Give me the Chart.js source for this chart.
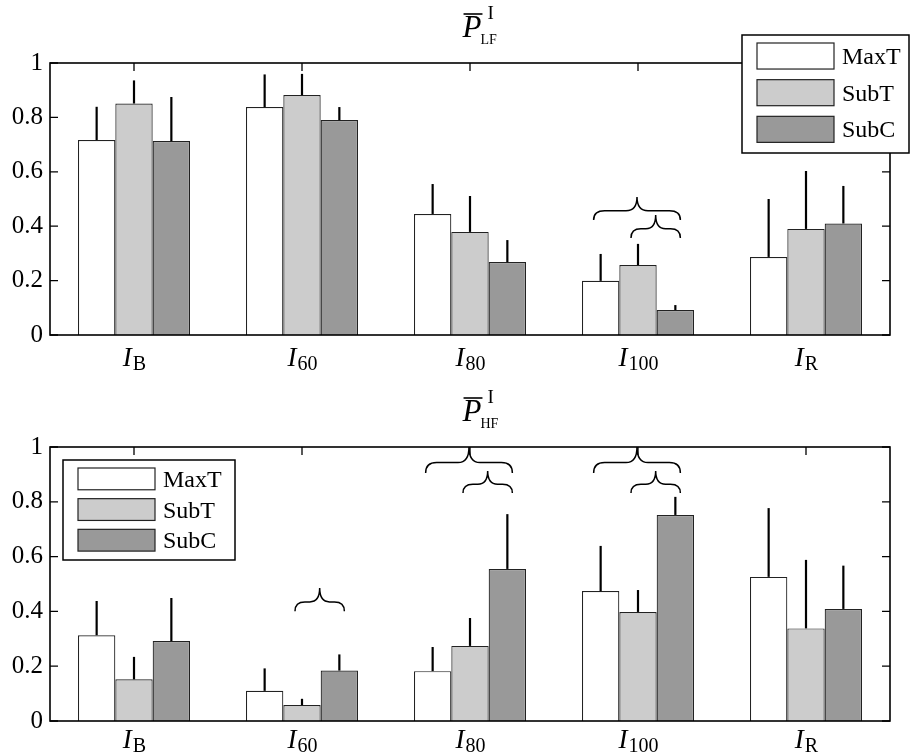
<!DOCTYPE html>
<html>
<head>
<meta charset="utf-8">
<script src="https://cdn.jsdelivr.net/npm/chart.js@4.4.1/dist/chart.umd.min.js"></script>
<style>
  html, body { margin: 0; padding: 0; background: #fff; }
  #wrap { position: relative; width: 911px; height: 755px; }
  canvas { position: absolute; left: 0; }
  #lf { top: 0; }
  #hf { top: 380px; }
</style>
</head>
<body>
<div id="wrap">
  <canvas id="lf" width="911" height="380"></canvas>
  <canvas id="hf" width="911" height="375"></canvas>
</div>
<script>
// category subscripts (I_B, I_60, ...) and series names
var SUBS = ["B", "60", "80", "100", "R"];
var SERIES = ["MaxT", "SubT", "SubC"];
var FILLS = ["#ffffff", "#cccccc", "#999999"];

// LF panel: means and upper error
var lfMaxT = [0.717, 0.838, 0.445, 0.199, 0.287];
var lfSubT = [0.851, 0.882, 0.379, 0.257, 0.390];
var lfSubC = [0.713, 0.790, 0.268, 0.092, 0.410];
var lfMaxTErr = [0.122, 0.120, 0.110, 0.099, 0.213];
var lfSubTErr = [0.085, 0.078, 0.132, 0.078, 0.213];
var lfSubCErr = [0.162, 0.048, 0.081, 0.018, 0.138];

// HF panel
var hfMaxT = [0.313, 0.110, 0.182, 0.474, 0.526];
var hfSubT = [0.152, 0.058, 0.274, 0.398, 0.338];
var hfSubC = [0.292, 0.184, 0.555, 0.752, 0.409];
var hfMaxTErr = [0.125, 0.082, 0.088, 0.165, 0.251];
var hfSubTErr = [0.082, 0.023, 0.102, 0.080, 0.250];
var hfSubCErr = [0.157, 0.059, 0.200, 0.066, 0.158];

// significance braces: [category, from series, to series, tip value, foot value]
var lfBraces = [[3, 0, 2, 0.507, 0.423], [3, 1, 2, 0.441, 0.357]];
var hfBraces = [
  [1, 1, 2, 0.485, 0.401],
  [2, 0, 2, 1.000, 0.905], [2, 1, 2, 0.912, 0.832],
  [3, 0, 2, 1.000, 0.905], [3, 1, 2, 0.912, 0.832]
];

var SERIF = "'Liberation Serif', 'DejaVu Serif', serif";

function brace(ctx, x0, x1, yTip, yFoot) {
  var xm = (x0 + x1) / 2;
  var yMid = yFoot - (yFoot - yTip) * 0.4;
  var r = Math.min(11, (x1 - x0) / 5);
  ctx.beginPath();
  ctx.moveTo(x0, yFoot);
  ctx.quadraticCurveTo(x0, yMid, x0 + r, yMid);
  ctx.lineTo(xm - r, yMid);
  ctx.quadraticCurveTo(xm, yMid, xm, yTip);
  ctx.quadraticCurveTo(xm, yMid, xm + r, yMid);
  ctx.lineTo(x1 - r, yMid);
  ctx.quadraticCurveTo(x1, yMid, x1, yFoot);
  ctx.stroke();
}

function makePanel(id, vals, errs, braces, sub, legendAt, labelGap, pad) {
  var panel = {
    id: "panel",
    beforeDatasetsDraw: function (chart) {
      // inward tick marks, drawn beneath the bars
      var ctx = chart.ctx, a = chart.chartArea;
      var xs = chart.scales.x, ys = chart.scales.y;
      ctx.save();
      ctx.strokeStyle = "#000";
      ctx.lineWidth = 1.3;
      ctx.beginPath();
      ys.ticks.forEach(function (t) {
        var py = ys.getPixelForValue(t.value);
        ctx.moveTo(a.left, py); ctx.lineTo(a.left + 8, py);
        ctx.moveTo(a.right, py); ctx.lineTo(a.right - 8, py);
      });
      SUBS.forEach(function (s, i) {
        var px = xs.getPixelForValue(i);
        ctx.moveTo(px, a.bottom); ctx.lineTo(px, a.bottom - 8);
        ctx.moveTo(px, a.top); ctx.lineTo(px, a.top + 8);
      });
      ctx.stroke();
      ctx.restore();
    },
    afterDatasetsDraw: function (chart) {
      var ctx = chart.ctx, a = chart.chartArea;
      var xs = chart.scales.x, ys = chart.scales.y;
      ctx.save();

      // upper error bars
      ctx.strokeStyle = "#000";
      ctx.lineWidth = 2.2;
      chart.data.datasets.forEach(function (ds, d) {
        var meta = chart.getDatasetMeta(d);
        meta.data.forEach(function (bar, i) {
          var top = ys.getPixelForValue(ds.data[i] + ds.errUp[i]);
          ctx.beginPath();
          ctx.moveTo(bar.x, bar.y);
          ctx.lineTo(bar.x, top);
          ctx.stroke();
        });
      });

      // braces
      ctx.lineWidth = 1.5;
      braces.forEach(function (b) {
        var from = chart.getDatasetMeta(b[1]).data[b[0]];
        var to = chart.getDatasetMeta(b[2]).data[b[0]];
        brace(ctx, from.x - 7, to.x + 5, ys.getPixelForValue(b[3]), ys.getPixelForValue(b[4]));
      });

      // frame
      ctx.lineWidth = 1.6;
      ctx.strokeRect(a.left, a.top, a.right - a.left, a.bottom - a.top);

      // x labels: italic I with upright subscript
      ctx.fillStyle = "#000";
      ctx.textBaseline = "alphabetic";
      ctx.textAlign = "left";
      SUBS.forEach(function (s, i) {
        var px = xs.getPixelForValue(i);
        ctx.font = "italic 27px " + SERIF;
        var wI = ctx.measureText("I").width;
        ctx.font = "20px " + SERIF;
        var wS = ctx.measureText(s).width;
        var x0 = px - (wI + wS) / 2;
        var base = a.bottom + labelGap;
        ctx.font = "italic 27px " + SERIF;
        ctx.fillText("I", x0, base);
        ctx.font = "20px " + SERIF;
        ctx.fillText(s, x0 + wI + 1, base + 4);
      });

      // title: P with overline, subscript band, superscript I
      var cx = (a.left + a.right) / 2;
      var tb = a.top - 26;
      ctx.font = "italic 31px " + SERIF;
      var wP = ctx.measureText("P").width;
      var px0 = cx - wP / 2 + 2;
      ctx.fillText("P", px0, tb);
      ctx.lineWidth = 1.6;
      ctx.beginPath();
      ctx.moveTo(px0 + 1, tb - 23);
      ctx.lineTo(px0 + wP + 1, tb - 23);
      ctx.stroke();
      ctx.font = "14px " + SERIF;
      ctx.fillText(sub, px0 + wP - 1, tb + 7);
      ctx.font = "19px " + SERIF;
      ctx.fillText("I", px0 + wP + 6, tb - 18);

      // legend box
      var lx = legendAt[0], ly = legendAt[1], lw = legendAt[2], lh = legendAt[3];
      ctx.fillStyle = "#fff";
      ctx.fillRect(lx, ly, lw, lh);
      ctx.lineWidth = 1.5;
      ctx.strokeStyle = "#000";
      ctx.strokeRect(lx, ly, lw, lh);
      var pitch = (lh - 8) / 3;
      var sh = pitch * 0.71;
      chart.data.datasets.forEach(function (ds, d) {
        var sy = ly + 8 + d * pitch;
        ctx.fillStyle = ds.backgroundColor;
        ctx.fillRect(lx + 15, sy, 77, sh);
        ctx.lineWidth = 1.2;
        ctx.strokeStyle = "#222";
        ctx.strokeRect(lx + 15, sy, 77, sh);
        ctx.fillStyle = "#000";
        ctx.font = "24px " + SERIF;
        ctx.fillText(ds.label, lx + 100, sy + sh / 2 + 8);
      });

      ctx.restore();
    }
  };

  return new Chart(document.getElementById(id), {
    type: "bar",
    data: {
      labels: SUBS,
      datasets: SERIES.map(function (name, d) {
        return {
          label: name,
          data: vals[d],
          errUp: errs[d],
          backgroundColor: FILLS[d],
          borderColor: "#222",
          borderWidth: 1.2,
          categoryPercentage: 0.667,
          barPercentage: 1.0
        };
      })
    },
    options: {
      responsive: false,
      animation: false,
      layout: { padding: pad },
      plugins: { legend: { display: false }, tooltip: { enabled: false } },
      scales: {
        x: {
          grid: { display: false, drawTicks: false },
          border: { display: false },
          ticks: { display: false },
          afterFit: function (s) { s.height = 0; }
        },
        y: {
          min: 0,
          max: 1,
          grid: { display: false, drawTicks: false },
          border: { display: false },
          ticks: {
            stepSize: 0.2,
            color: "#000",
            padding: 7,
            font: { family: SERIF, size: 25 },
            callback: function (v) { return String(+v.toFixed(1)); }
          },
          afterFit: function (s) { s.width = 50; }
        }
      }
    },
    plugins: [panel]
  });
}

makePanel("lf",
  [lfMaxT, lfSubT, lfSubC], [lfMaxTErr, lfSubTErr, lfSubCErr],
  lfBraces, "LF", [742, 35, 167, 118], 31,
  { left: 0, right: 21, top: 63, bottom: 45 });

makePanel("hf",
  [hfMaxT, hfSubT, hfSubC], [hfMaxTErr, hfSubTErr, hfSubCErr],
  hfBraces, "HF", [63, 80, 172, 100], 27,
  { left: 0, right: 21, top: 67, bottom: 34 });
</script>
</body>
</html>
